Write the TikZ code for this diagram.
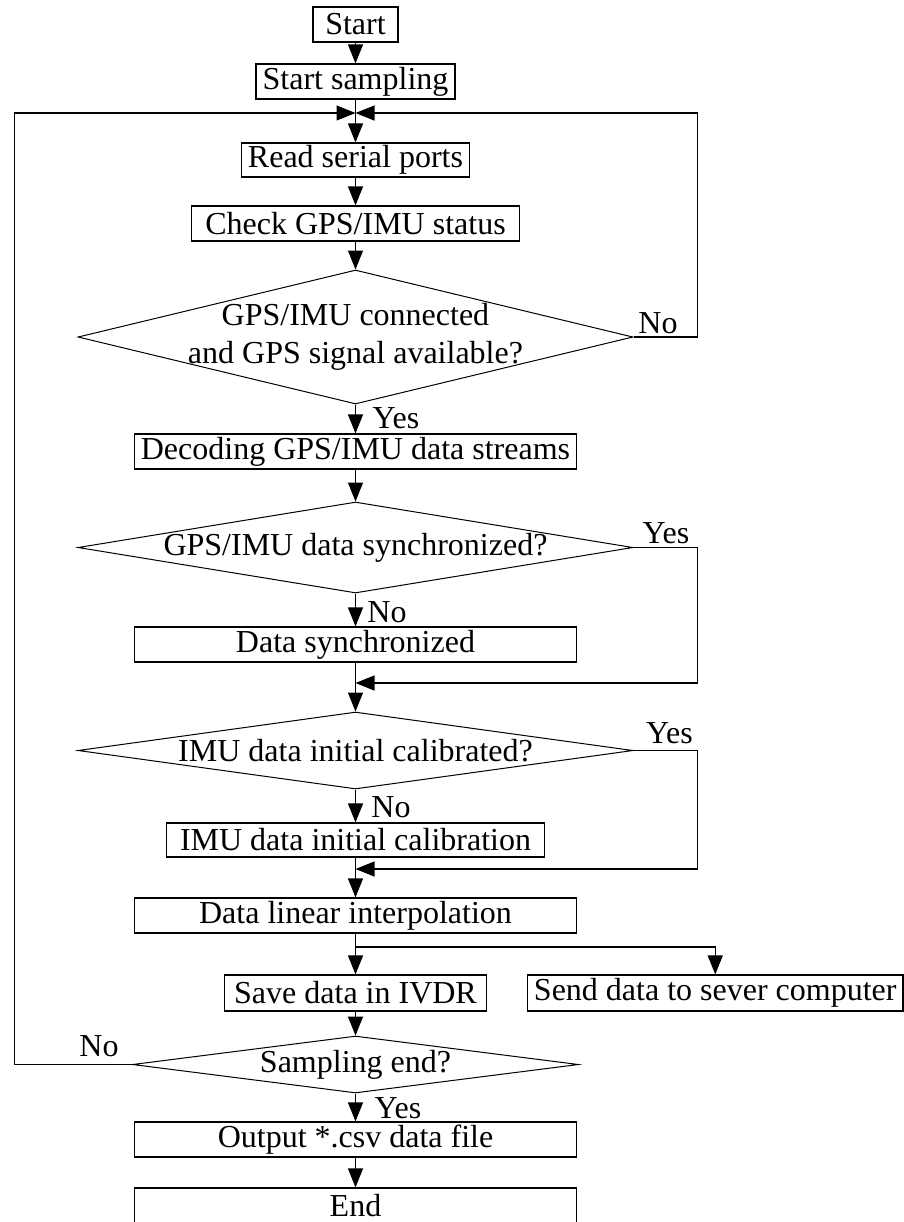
\documentclass[tikz,border=0pt]{standalone}
\usepackage{fontspec}
\setmainfont{Liberation Serif}
\usepackage{tikz}
\usetikzlibrary{shapes,arrows.meta}
\tikzstyle{box}=[draw, rectangle, line width=0.6pt, inner sep=0pt, minimum height=17.5pt]
\tikzstyle{decide}=[draw, diamond, line width=0.5pt, inner sep=0pt, minimum width=277.5pt]
\tikzstyle{lbl}=[inner sep=0pt]
\tikzstyle{arr}=[line width=0.6pt, -{Triangle[length=9.5pt,width=7.5pt]}]

\begin{document}
\begin{tikzpicture}[x=0.5pt,y=-0.5pt,font=\fontsize{16}{19}\selectfont]
\useasboundingbox (0,0) rectangle (904,1222);

\node[box, minimum width=42.5pt] (start) at (355.5,24.5) {Start};
\node[box, minimum width=99.5pt] (samp) at (355.5,81.5) {Start sampling};
\node[box, minimum width=114pt, minimum height=17pt] (read) at (355.5,160) {Read serial ports};
\node[box, minimum width=164pt] (check) at (355.5,223.5) {Check GPS/IMU status};

\node[decide, minimum height=67pt, label={[align=center]center:GPS/IMU connected\\and GPS signal available?}] (d1) at (355.5,337) {};
\node[box, minimum width=220.75pt] (decode) at (355.5,451.5) {Decoding GPS/IMU data streams};
\node[decide, minimum height=45.5pt, label={center:GPS/IMU data synchronized?}] (d2) at (355.5,547.5) {};
\node[box, minimum width=220.75pt] (sync) at (355.5,644.5) {Data synchronized};
\node[decide, minimum height=38.5pt, label={center:IMU data initial calibrated?}] (d3) at (355.5,750.5) {};
\node[box, minimum width=189pt, minimum height=17pt] (calib) at (355.5,840) {IMU data initial calibration};
\node[box, minimum width=220.75pt] (interp) at (355.5,915.5) {Data linear interpolation};
\node[box, minimum width=131pt, minimum height=18pt] (save) at (355.5,993) {Save data in IVDR};
\node[box, minimum width=187.75pt, minimum height=18pt] (send) at (715.25,993) {Send data to sever computer};
\node[decide, minimum width=223pt, minimum height=28.5pt, label={center:Sampling end?}] (d4) at (355.5,1064.5) {};
\node[box, minimum width=220.75pt] (output) at (355.5,1139.5) {Output *.csv data file};
\node[box, minimum width=220.75pt, minimum height=18pt] (end) at (355.5,1206) {End};

% branch labels
\node[lbl] (no1) at (658,323) {No};
\node[lbl] (yes1) at (396,418) {Yes};
\node[lbl] (yes2) at (666,533) {Yes};
\node[lbl] (no2) at (387,612) {No};
\node[lbl] (yes3) at (669.5,733) {Yes};
\node[lbl] (no3) at (391,807) {No};
\node[lbl] (no4) at (99,1046) {No};
\node[lbl] (yes4) at (398,1108) {Yes};

\coordinate (top) at (355.5,113);
\coordinate (m1) at (355.5,683);
\coordinate (m2) at (355.5,869);
\coordinate (br) at (355.5,947);
\coordinate (rx) at (697.6,0);
\coordinate (lx) at (14.4,0);

\draw[arr] (start) -- (samp);
\draw[arr] (samp) -- (read);
\draw[arr] (read) -- (check);
\draw[arr] (check) -- (d1);
\draw[arr] (d1) -- (decode);
\draw[arr] (decode) -- (d2);
\draw[arr] (d2) -- (sync);
\draw[arr] (sync) -- (d3);
\draw[arr] (d3) -- (calib);
\draw[arr] (calib) -- (interp);
\draw[arr] (interp) -- (save);
\draw[arr] (save) -- (d4);
\draw[arr] (d4) -- (output);
\draw[arr] (output) -- (end);

% loops back
\draw[arr] (d1.east) -- (d1.east -| rx) |- (top);
\draw[arr] (d4.west) -- (d4.west -| lx) |- (top);
\draw[arr] (d2.east) -- (d2.east -| rx) |- (m1);
\draw[arr] (d3.east) -- (d3.east -| rx) |- (m2);
\draw[arr] (br) -| (send.north);

\end{tikzpicture}
\end{document}
